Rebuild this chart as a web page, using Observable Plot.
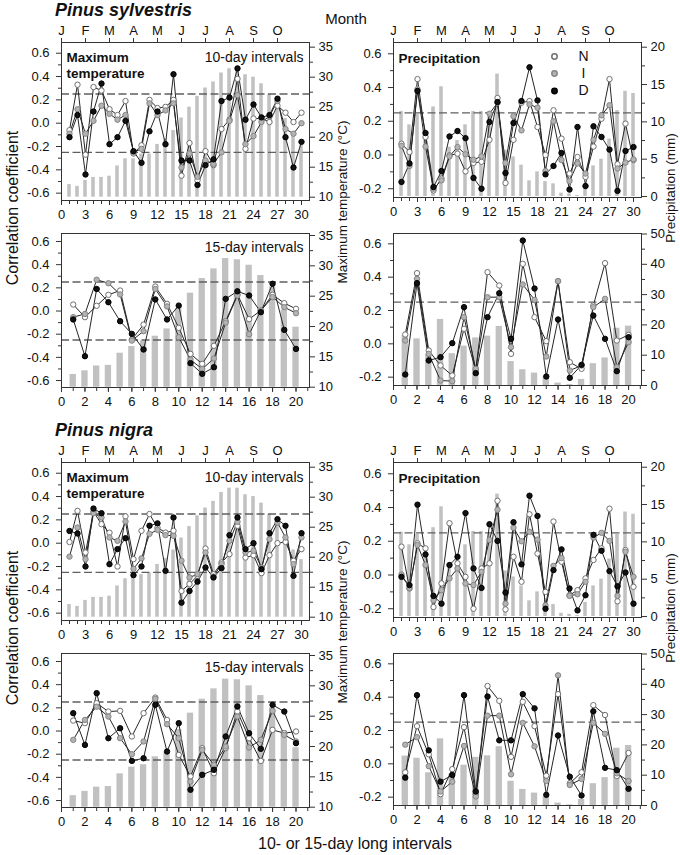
<!DOCTYPE html>
<html><head><meta charset="utf-8">
<script src="https://cdn.jsdelivr.net/npm/d3@7"></script>
<script src="https://cdn.jsdelivr.net/npm/@observablehq/plot@0.6"></script>
<style>
body{margin:0;background:#fff;}
#chart{position:relative;width:680px;height:855px;font-family:"Liberation Sans",Arial,Helvetica,sans-serif;color:#111;overflow:hidden;}
.lbl{position:absolute;white-space:nowrap;line-height:1;}
</style></head><body><div id="chart"></div>
<script>
// ---------- tick labels / categories ----------
const months = ["J","F","M","A","M","J","J","A","S","O"];
const monthTicks = [0,3,6,9,12,15,18,21,24,27];
const xTicks10 = [0,3,6,9,12,15,18,21,24,27,30];
const xMinor10 = d3.range(0,31);
const xTicks15 = [0,2,4,6,8,10,12,14,16,18,20];
const xMinor15 = d3.range(0,22);
const corrTicksLeft = [-0.6,-0.4,-0.2,0,0.2,0.4,0.6];
const corrMinorLeft = [-0.5,-0.3,-0.1,0.1,0.3,0.5];
const corrTicksRight = [-0.2,0,0.2,0.4,0.6];
const corrMinorRight = [-0.1,0.1,0.3,0.5];
const tempTicks = [10,15,20,25,30,35];
const tempMinor = [12.5,17.5,22.5,27.5,32.5];
const precipTicks10 = [0,5,10,15,20];
const precipMinor10 = [2.5,7.5,12.5,17.5];
const precipTicks15 = [0,10,20,30,40,50];
const precipMinor15 = [5,15,25,35,45];
const seriesNames = ["N","I","D"];

// ---------- Pinus sylvestris ----------
const sylTmax10Bars = [12.1,11.8,12.8,13.3,13.3,13.5,15.2,16.4,16.4,17.2,17.2,18.8,19.7,21.1,23.2,25.0,26.8,28.2,29.2,30.7,31.4,31.7,30.4,30.0,28.9,27.1,25.6,23.1,20.8,18.6];
const sylTmax10N = [-0.06,0.33,-0.27,0.31,0.28,0.12,0.07,0.19,-0.26,-0.19,0.20,0.13,0.14,0.20,-0.45,-0.17,-0.49,-0.24,-0.36,-0.05,0.03,0.38,-0.22,0.04,0.04,0.01,0.15,0.09,0.01,0.09];
const sylTmax10I = [-0.09,0.12,-0.09,0.02,0.15,0.08,0.03,0.07,-0.25,-0.22,0.17,0.07,0.11,0.17,-0.38,-0.26,-0.46,-0.32,-0.35,-0.25,0.02,0.24,-0.18,-0.11,0.01,0.06,0.19,-0.05,-0.09,0.0];
const sylTmax10D = [-0.12,0.07,-0.44,0.10,0.34,-0.18,-0.12,0.02,-0.24,-0.34,-0.07,0.10,-0.18,0.42,-0.32,-0.32,-0.53,-0.36,-0.31,0.19,0.22,0.47,0.03,0.16,0.05,0.07,0.21,-0.12,-0.38,-0.16];

const sylPrec10Bars = [11.4,9.6,11.0,8.0,12.0,14.7,6.6,7.5,9.6,11.4,11.4,11.1,16.4,6.2,5.3,4.2,2.1,3.3,2.0,1.7,0.45,0.36,0.13,1.7,4.1,5.0,7.7,11.5,14.1,13.8];
const sylPrec10N = [0.067,0.018,0.45,0.107,-0.21,-0.14,-0.002,0.008,-0.097,-0.047,-0.04,0.09,0.338,-0.166,0.09,0.31,0.32,0.166,0.0,0.265,0.097,-0.11,-0.012,-0.13,0.05,0.215,0.45,-0.055,0.186,-0.03];
const sylPrec10I = [0.055,-0.065,0.39,0.05,-0.2,-0.15,-0.008,0.047,0.004,-0.028,-0.008,0.245,0.31,-0.047,0.23,0.146,0.30,0.28,-0.095,0.2,-0.03,-0.154,-0.05,-0.11,0.09,0.235,0.295,-0.08,-0.045,-0.026];
const sylPrec10D = [-0.16,-0.05,0.38,0.13,-0.19,-0.095,0.11,0.142,0.10,-0.136,-0.2,0.196,0.314,-0.107,0.19,0.32,0.52,0.324,-0.115,-0.065,0.012,-0.205,0.166,-0.184,0.17,0.107,0.032,-0.213,0.024,0.047];

const sylTmax15Bars = [12.1,12.7,13.5,13.6,15.6,16.7,17.6,18.4,19.6,23.0,25.5,27.9,29.5,31.2,31.0,30.1,28.4,26.5,22.7,19.9];
const sylTmax15N = [0.056,-0.053,0.045,0.14,0.177,-0.246,-0.117,0.211,0.062,-0.145,-0.37,-0.456,-0.30,-0.088,0.143,-0.07,0.004,0.14,0.068,0.019];
const sylTmax15I = [-0.053,-0.025,0.27,0.24,0.143,-0.255,-0.174,0.19,0.04,-0.226,-0.42,-0.50,-0.41,-0.10,0.134,-0.20,0.004,0.12,0.033,-0.019];
const sylTmax15D = [-0.073,-0.39,0.19,0.076,-0.088,-0.197,-0.332,0.10,-0.073,0.047,-0.45,-0.542,-0.485,0.105,0.17,0.134,-0.01,0.235,-0.163,-0.327];

const sylPrec15Bars = [16.5,15.4,10.2,21.8,10.5,13.0,15.7,16.3,19.5,7.9,5.2,4.1,2.8,0.8,0.3,2.0,7.2,9.1,18.9,19.6];
const sylPrec15N = [0.056,0.424,-0.04,-0.13,-0.19,0.09,-0.16,0.43,0.35,-0.06,0.48,0.16,0.016,0.376,-0.11,-0.15,0.23,0.484,0.02,0.054];
const sylPrec15I = [0.02,0.39,-0.06,-0.22,-0.224,0.16,-0.15,0.28,0.28,-0.02,0.356,0.264,-0.076,0.376,-0.16,-0.13,0.22,0.27,-0.14,0.01];
const sylPrec15D = [-0.184,0.364,-0.10,-0.08,0.004,0.22,-0.176,0.16,0.304,0.03,0.62,0.332,-0.196,0.146,-0.204,-0.126,0.17,0.03,-0.164,0.04];

// ---------- Pinus nigra ----------
const nigTmax10Bars = [12.1,11.8,12.8,13.3,13.3,13.5,15.2,16.4,16.9,17.1,17.3,18.8,19.8,21.2,23.2,25.1,26.9,28.2,29.3,30.8,31.5,31.5,30.4,30.1,29.0,27.1,25.6,23.2,21.2,19.6];
const nigTmax10N = [0.01,0.277,-0.08,0.27,0.163,0.09,-0.2,0.23,-0.137,0.106,0.25,0.134,0.091,0.106,-0.41,-0.35,-0.28,-0.046,-0.266,-0.166,-0.094,0.149,-0.123,-0.103,-0.257,-0.103,0.0,0.011,-0.151,-0.051];
const nigTmax10I = [-0.115,0.134,-0.137,0.257,0.22,0.049,0.02,0.186,-0.22,-0.13,0.08,0.114,0.069,0.063,-0.15,-0.294,-0.266,-0.08,-0.286,-0.18,0.02,0.183,-0.08,-0.066,-0.209,0.034,0.177,0.049,-0.18,0.049];
const nigTmax10D = [0.105,0.083,-0.2,0.297,0.257,-0.18,-0.051,0.043,-0.274,-0.2,0.15,0.17,-0.237,0.22,-0.51,-0.41,-0.33,-0.209,-0.294,-0.214,0.069,0.22,-0.051,0.0,-0.223,0.086,0.206,0.149,-0.28,0.086];

const nigPrec10Bars = [11.3,9.6,11.0,8.0,11.9,14.7,6.5,7.5,9.6,11.4,11.4,11.0,16.4,6.1,5.3,4.1,2.1,3.3,1.8,1.6,0.44,0.3,0.13,1.9,4.1,5.0,7.7,11.0,14.0,13.7];
const nigPrec10N = [0.168,-0.08,0.188,0.158,-0.19,-0.05,0.307,0.069,-0.011,-0.2,0.039,0.069,0.44,-0.204,0.108,-0.04,0.36,0.127,-0.1,0.317,0.079,-0.12,-0.09,-0.02,0.089,0.158,0.393,-0.156,0.148,-0.07];
const nigPrec10I = [0.003,-0.077,0.178,0.059,-0.15,-0.09,-0.02,0.039,-0.05,-0.06,0.019,0.208,0.387,-0.17,0.28,0.2,0.256,0.21,-0.18,0.054,0.1,-0.124,-0.114,-0.04,0.222,0.25,0.202,-0.124,0.138,-0.011];
const nigPrec10D = [-0.011,-0.06,0.417,0.122,-0.124,-0.17,0.059,0.108,0.367,0.039,-0.077,0.301,0.202,-0.104,0.313,0.063,0.47,0.35,-0.2,0.029,0.152,-0.08,-0.21,-0.12,0.238,0.144,0.023,-0.067,0.015,-0.17];

const nigTmax15Bars = [11.9,12.6,13.3,13.4,15.5,16.6,17.0,18.3,19.0,22.8,25.5,27.8,29.5,31.1,31.0,30.0,28.4,26.4,22.6,19.8];
const nigTmax15N = [0.09,0.068,0.24,0.168,0.174,-0.047,0.154,0.289,0.096,-0.206,-0.392,-0.148,-0.364,-0.148,0.168,-0.062,-0.258,0.01,-0.019,-0.004];
const nigTmax15I = [-0.076,0.096,0.21,0.125,-0.062,-0.2,-0.09,0.278,0.059,-0.062,-0.436,-0.163,-0.292,-0.134,0.125,-0.142,-0.076,0.174,-0.033,-0.09];
const nigTmax15D = [0.154,-0.12,0.327,-0.062,0.024,-0.258,-0.235,0.226,-0.177,0.068,-0.507,-0.378,-0.335,-0.047,0.212,-0.019,-0.154,0.226,0.168,-0.105];

const nigPrec15Bars = [16.3,15.6,10.8,22.0,10.5,13.3,15.9,16.4,19.4,8.0,5.3,4.1,2.8,0.8,0.2,2.0,7.2,9.2,18.9,19.8];
const nigPrec15N = [-0.051,0.226,0.057,-0.182,-0.032,0.22,-0.182,0.467,0.378,0.042,0.372,0.226,-0.071,0.418,-0.117,-0.051,0.352,0.293,-0.073,0.065];
const nigPrec15I = [0.115,0.16,-0.014,-0.166,-0.107,0.107,-0.196,0.289,0.289,-0.063,0.246,0.105,-0.103,0.531,-0.127,-0.091,0.246,0.18,-0.057,-0.103];
const nigPrec15D = [-0.083,0.412,0.081,-0.107,-0.067,0.412,-0.166,0.404,0.141,0.141,0.418,0.333,-0.186,0.17,-0.077,-0.19,0.315,-0.024,-0.038,-0.15];

// ---------- layout helpers ----------
const FONT = '"Liberation Sans", Arial, Helvetica, sans-serif';
const chart = document.getElementById("chart");
const MT = 30, MB = 30, W = 340;
const DOT_R = 2.7;
const seriesStyle = [
  {fill: "#ffffff", stroke: "#707070"},
  {fill: "#b3b3b3", stroke: "#858585"},
  {fill: "#111111", stroke: "#000000"}
];

function addLabel(text, x, y, o = {}) {
  const d = document.createElement("div");
  d.className = "lbl";
  d.textContent = text;
  d.style.left = x + "px";
  d.style.top = y + "px";
  d.style.fontSize = (o.size || 14) + "px";
  if (o.weight) d.style.fontWeight = o.weight;
  if (o.italic) d.style.fontStyle = "italic";
  const tx = o.align === "left" ? "0" : "-50%";
  d.style.transform = `translate(${tx},-50%)` + (o.rotate ? " rotate(-90deg)" : "");
  chart.appendChild(d);
}

function makePanel(cfg) {
  const right = cfg.side === "right";
  const ml = right ? 53 : 61, mr = right ? 39 : 31;
  const H = MT + cfg.frameH + MB;
  const common = {
    width: W, height: H, marginTop: MT, marginBottom: MB, marginLeft: ml, marginRight: mr,
    style: {background: "transparent", overflow: "visible", fontFamily: FONT, fontSize: "13px", color: "#111"}
  };
  const xOf = (d, i) => i + 1;
  const back = Plot.plot({
    ...common,
    x: {domain: [0, cfg.xMax], axis: null},
    y: {domain: cfg.y2Dom},
    marks: [
      Plot.rect(cfg.bars, {x1: (d, i) => i + 1 - cfg.barHalf, x2: (d, i) => i + 1 + cfg.barHalf, y1: cfg.barBase, y2: d => d, fill: "#c1c1c1"}),
      Plot.axisY(cfg.y2Ticks, {anchor: "right", tickSize: 5, tickPadding: 4, label: null, tickFormat: d => String(d), stroke: "#333"}),
      Plot.axisY(cfg.y2Minor, {anchor: "right", tickSize: 3, label: null, tickFormat: () => "", stroke: "#333"})
    ]
  });
  const seriesMarks = [];
  cfg.series.forEach(s => seriesMarks.push(Plot.line(s, {x: xOf, y: d => d, stroke: "#262626", strokeWidth: 1})));
  cfg.series.forEach((s, k) => seriesMarks.push(Plot.dot(s, {x: xOf, y: d => d, r: DOT_R, fill: seriesStyle[k].fill, stroke: seriesStyle[k].stroke, strokeWidth: 1})));
  const textMarks = [];
  if (cfg.title) textMarks.push(Plot.text([cfg.title], {text: d => d, frameAnchor: "top-left", dx: 5, dy: cfg.titleDy, textAnchor: "start", lineAnchor: "top", fontWeight: "bold", fontSize: 13.5, lineHeight: 1.13, fill: "#111"}));
  if (cfg.interval) textMarks.push(Plot.text([cfg.interval], {text: d => d, frameAnchor: "top-right", dx: -6, dy: cfg.intervalDy, textAnchor: "end", lineAnchor: "top", fontSize: 14, fill: "#111"}));
  if (cfg.legend) {
    seriesNames.forEach((nm, k) => {
      const dy = [14, 31, 48.5][k];
      textMarks.push(Plot.dot([nm], {frameAnchor: "top-right", dx: -87, dy, r: DOT_R, fill: seriesStyle[k].fill, stroke: seriesStyle[k].stroke}));
      textMarks.push(Plot.text([nm], {text: d => d, frameAnchor: "top-right", dx: -58, dy, textAnchor: "middle", lineAnchor: "middle", fontSize: 14, fill: "#111"}));
    });
  }
  const front = Plot.plot({
    ...common,
    x: {domain: [0, cfg.xMax]},
    y: {domain: cfg.yDom},
    marks: [
      Plot.ruleY(cfg.dashes, {stroke: "#5f5f5f", strokeWidth: 1.4, strokeDasharray: "8,3.5"}),
      Plot.axisY(cfg.yTicks, {tickSize: 5, tickPadding: 7, label: null, tickFormat: d => d.toFixed(1), stroke: "#333"}),
      Plot.axisY(cfg.yMinor, {tickSize: 3, label: null, tickFormat: () => "", stroke: "#333"}),
      Plot.axisX(cfg.xMinor, {tickSize: 4, label: null, tickFormat: () => "", stroke: "#333"}),
      Plot.axisX(cfg.xTicks, {tickSize: 5, tickPadding: 4, label: null, tickFormat: d => String(d), stroke: "#333"}),
      cfg.months ? Plot.axisX(monthTicks, {anchor: "top", tickSize: 5, tickPadding: 3, label: null, tickFormat: d => months[Math.round(d / 3)], stroke: "#333"}) : null,
      Plot.frame({stroke: "#333", strokeWidth: 1}),
      ...seriesMarks,
      ...textMarks
    ]
  });
  const wrap = document.createElement("div");
  wrap.style.cssText = `position:absolute;left:${right ? 340 : 0}px;top:${cfg.frameTop - MT}px;width:${W}px;height:${H}px;`;
  for (const svg of [back, front]) {
    svg.style.position = "absolute";
    svg.style.left = "0px";
    svg.style.top = "0px";
    wrap.appendChild(svg);
  }
  chart.appendChild(wrap);
}

const rows = [
  {off: 0, tmax10: [sylTmax10Bars, sylTmax10N, sylTmax10I, sylTmax10D], prec10: [sylPrec10Bars, sylPrec10N, sylPrec10I, sylPrec10D],
   tmax15: [sylTmax15Bars, sylTmax15N, sylTmax15I, sylTmax15D], prec15: [sylPrec15Bars, sylPrec15N, sylPrec15I, sylPrec15D], legend: true},
  {off: 420, tmax10: [nigTmax10Bars, nigTmax10N, nigTmax10I, nigTmax10D], prec10: [nigPrec10Bars, nigPrec10N, nigPrec10I, nigPrec10D],
   tmax15: [nigTmax15Bars, nigTmax15N, nigTmax15I, nigTmax15D], prec15: [nigPrec15Bars, nigPrec15N, nigPrec15I, nigPrec15D], legend: false}
];

for (const r of rows) {
  makePanel({side: "left", frameTop: 42 + r.off, frameH: 158, xMax: 31, xTicks: xTicks10, xMinor: xMinor10, months: true,
    yDom: [-0.663, 0.692], yTicks: corrTicksLeft, yMinor: corrMinorLeft, dashes: [0.25, -0.25],
    y2Dom: [9.45, 35.78], y2Ticks: tempTicks, y2Minor: tempMinor, bars: r.tmax10[0], barHalf: 0.22, barBase: 10,
    series: r.tmax10.slice(1), title: "Maximum\ntemperature", titleDy: 9, interval: "10-day intervals", intervalDy: 10});
  makePanel({side: "right", frameTop: 42 + r.off, frameH: 155, xMax: 31, xTicks: xTicks10, xMinor: xMinor10, months: true,
    yDom: [-0.252, 0.667], yTicks: corrTicksRight, yMinor: corrMinorRight, dashes: [0.25],
    y2Dom: [-0.13, 20.63], y2Ticks: precipTicks10, y2Minor: precipMinor10, bars: r.prec10[0], barHalf: 0.22, barBase: 0,
    series: r.prec10.slice(1), title: "Precipitation", titleDy: 10, legend: r.legend});
  makePanel({side: "left", frameTop: 233 + r.off, frameH: 154, xMax: 21.15, xTicks: xTicks15, xMinor: xMinor15, months: false,
    yDom: [-0.66, 0.669], yTicks: corrTicksLeft, yMinor: corrMinorLeft, dashes: [0.25, -0.25],
    y2Dom: [9.95, 35.33], y2Ticks: tempTicks, y2Minor: tempMinor, bars: r.tmax15[0], barHalf: 0.27, barBase: 10,
    series: r.tmax15.slice(1), interval: "15-day intervals", intervalDy: 9});
  makePanel({side: "right", frameTop: 233 + r.off, frameH: 152, xMax: 21.1, xTicks: xTicks15, xMinor: xMinor15, months: false,
    yDom: [-0.25, 0.662], yTicks: corrTicksRight, yMinor: corrMinorRight, dashes: [0.25],
    y2Dom: [0, 50.17], y2Ticks: precipTicks15, y2Minor: precipMinor15, bars: r.prec15[0], barHalf: 0.27, barBase: 0,
    series: r.prec15.slice(1)});
}

// ---------- outer texts ----------
addLabel("Pinus sylvestris", 55, 10, {size: 18, weight: "bold", italic: true, align: "left"});
addLabel("Pinus nigra", 55, 430, {size: 18, weight: "bold", italic: true, align: "left"});
addLabel("Month", 346, 18, {size: 15});
for (const off of [0, 420]) {
  addLabel("Correlation coefficient", 13, 208 + off, {size: 16, rotate: true});
  addLabel("Maximum temperature (°C)", 343, 202 + off, {size: 13.5, rotate: true});
  addLabel("Precipitation (mm)", 671, 188 + off, {size: 13.5, rotate: true});
}
addLabel("10- or 15-day long intervals", 355, 844, {size: 16});
</script></body></html>
